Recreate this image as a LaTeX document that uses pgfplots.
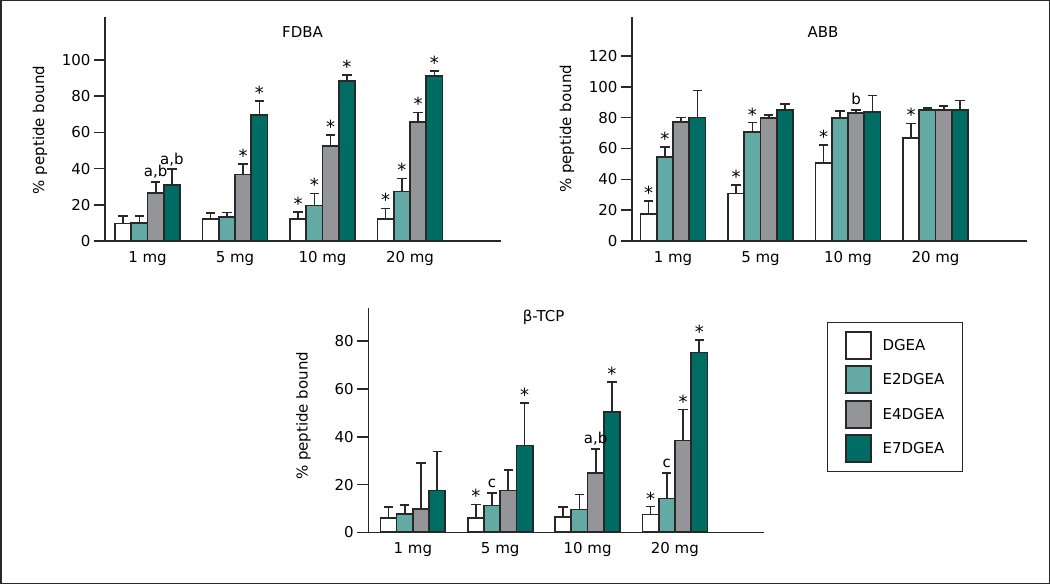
\documentclass[border=0pt]{standalone}
\usepackage{fontspec}
\setmainfont{DejaVu Sans}
\usepackage{pgfplots}
\pgfplotsset{compat=1.18}
\definecolor{clt}{RGB}{99,170,165}
\definecolor{cgr}{RGB}{147,149,152}
\definecolor{cdk}{RGB}{0,109,101}
\definecolor{cout}{RGB}{40,40,40}
\newcommand{\fs}{\fontsize{15}{18}\selectfont}
\pgfplotsset{
 panel/.style={
  scale only axis, axis lines=left,
  axis line style={-, line width=1.6pt, draw=cout},
  enlargelimits=false, ymin=0, clip=false,
  ybar=0pt, bar width=0.186,
  xtick={0,1,2,3}, xticklabels={1 mg,5 mg,10 mg,20 mg},
  x tick style={draw=none},
  y tick style={line width=1.6pt, draw=cout},
  tick align=outside, major tick length=11pt,
  tick label style={font=\fs},
  /pgf/number format/assume math mode=true,
  xticklabel style={yshift=4pt},
  ylabel={\% peptide bound},
  ylabel style={font=\fs, anchor=center},
  error bars/y dir=plus, error bars/y explicit,
  error bars/error bar style={line width=1.7pt, solid, draw=cout},
  error bars/error mark options={rotate=90, mark size=4.7pt, line width=1.7pt, draw=cout},
 },
 s1/.style={fill=white, draw=cout, line width=1.7pt},
 s2/.style={fill=clt, draw=cout, line width=1.7pt},
 s3/.style={fill=cgr, draw=cout, line width=1.7pt},
 s4/.style={fill=cdk, draw=cout, line width=1.7pt},
}
\tikzset{
 st/.style={anchor=base, font=\fontsize{18}{18}\selectfont, inner sep=0pt, yshift=1.5pt},
 lt/.style={anchor=base, font=\fs, inner sep=0pt, yshift=5pt},
}
\begin{document}
\begin{tikzpicture}
\useasboundingbox (0,0) rectangle (1050pt,584pt);
\draw[line width=1.5pt, cout] (0.75pt,0.75pt) rectangle (1049.25pt,583.25pt);

% FDBA
\begin{axis}[panel, at={(105pt,343pt)}, anchor=south west,
  width=396pt, height=224.3pt, xmin=-0.486, xmax=4.04, ymax=124,
  ytick={0,20,...,100},
  ylabel style={at={(axis description cs:-0.164,0.495)}}]
\addplot[s1] coordinates {(0,9.6) +- (0,4.4) (1,12.2) +- (0,3.1) (2,12.2) +- (0,4.0) (3,12.0) +- (0,6.0)};
\addplot[s2] coordinates {(0,10.1) +- (0,3.7) (1,13.1) +- (0,2.6) (2,19.7) +- (0,6.6) (3,27.4) +- (0,7.2)};
\addplot[s3] coordinates {(0,26.7) +- (0,6.1) (1,36.8) +- (0,5.7) (2,52.7) +- (0,5.9) (3,65.9) +- (0,5.2)};
\addplot[s4] coordinates {(0,30.8) +- (0,9.0) (1,69.8) +- (0,7.7) (2,88.4) +- (0,3.3) (3,91.2) +- (0,2.7)};
\node[font=\fs] at (rel axis cs:0.499,0.932) {FDBA};
\node[lt] at (axis cs:0.093,32.8) {a,b};
\node[lt] at (axis cs:0.279,39.8) {a,b};
\node[st] at (axis cs:1.093,42.5) {*};
\node[st] at (axis cs:1.279,77.5) {*};
\node[st] at (axis cs:1.721,16.2) {*};
\node[st] at (axis cs:1.907,26.3) {*};
\node[st] at (axis cs:2.093,58.6) {*};
\node[st] at (axis cs:2.279,91.7) {*};
\node[st] at (axis cs:2.721,18.0) {*};
\node[st] at (axis cs:2.907,34.6) {*};
\node[st] at (axis cs:3.093,71.1) {*};
\node[st] at (axis cs:3.279,93.9) {*};
\end{axis}

% ABB
\begin{axis}[panel, at={(632pt,343pt)}, anchor=south west,
  width=394.7pt, height=224.3pt, xmin=-0.469, xmax=4.042, ymax=145.5,
  ytick={0,20,...,120},
  ylabel style={at={(axis description cs:-0.165,0.5)}}]
\addplot[s1] coordinates {(0,17.3) +- (0,8.6) (1,30.9) +- (0,5.6) (2,50.4) +- (0,11.7) (3,66.6) +- (0,9.7)};
\addplot[s2] coordinates {(0,54.7) +- (0,6.3) (1,70.7) +- (0,6.1) (2,79.8) +- (0,4.7) (3,84.8) +- (0,1.3)};
\addplot[s3] coordinates {(0,77.4) +- (0,2.8) (1,80.0) +- (0,1.9) (2,83.2) +- (0,2.0) (3,85.0) +- (0,2.4)};
\addplot[s4] coordinates {(0,80.2) +- (0,17.5) (1,85.2) +- (0,3.7) (2,83.7) +- (0,10.6) (3,85.2) +- (0,6.0)};
\node[font=\fs] at (rel axis cs:0.484,0.932) {ABB};
\node[st] at (axis cs:-0.279,25.9) {*};
\node[st] at (axis cs:-0.093,61.0) {*};
\node[st] at (axis cs:0.721,36.5) {*};
\node[st] at (axis cs:0.907,76.8) {*};
\node[st] at (axis cs:1.721,62.1) {*};
\node[lt] at (axis cs:2.093,85.2) {b};
\node[st] at (axis cs:2.721,76.3) {*};
\end{axis}

% beta-TCP
\begin{axis}[panel, at={(368.3pt,51.7pt)}, anchor=south west,
  width=395.7pt, height=224pt, xmin=-0.51, xmax=4.02, ymax=93.8,
  ytick={0,20,...,80},
  ylabel style={at={(axis description cs:-0.164,0.52)}},
  legend style={at={(axis description cs:1.158,0.939)}, anchor=north west,
    draw=cout, line width=1.2pt, inner xsep=18pt, inner ysep=8.5pt,
    row sep=5.7pt, column sep=10.7pt, cells={anchor=west},
    nodes={inner sep=0pt, font=\fs}},
  legend cell align=left,
  legend image code/.code={\draw[#1, line width=1.7pt] (0pt,-13.5pt) rectangle (25pt,13.5pt);}]
\addplot[s1] coordinates {(0,5.9) +- (0,4.7) (1,6.1) +- (0,5.6) (2,6.4) +- (0,4.2) (3,7.4) +- (0,3.4)};
\addplot[s2] coordinates {(0,7.7) +- (0,3.6) (1,11.2) +- (0,5.4) (2,9.5) +- (0,6.3) (3,14.1) +- (0,10.8)};
\addplot[s3] coordinates {(0,9.8) +- (0,19.2) (1,17.5) +- (0,8.7) (2,24.9) +- (0,10.1) (3,38.4) +- (0,13.0)};
\addplot[s4] coordinates {(0,17.5) +- (0,16.3) (1,36.3) +- (0,17.9) (2,50.3) +- (0,12.5) (3,75.3) +- (0,5.1)};
\legend{DGEA,E2DGEA,E4DGEA,E7DGEA}
\node[font=\fs] at (rel axis cs:0.443,0.961) {β-TCP};
\node[st] at (axis cs:0.721,11.7) {*};
\node[lt] at (axis cs:0.907,16.6) {c};
\node[st] at (axis cs:1.279,54.2) {*};
\node[lt] at (axis cs:2.093,35.0) {a,b};
\node[st] at (axis cs:2.279,62.8) {*};
\node[st] at (axis cs:2.721,10.8) {*};
\node[lt] at (axis cs:2.907,24.9) {c};
\node[st] at (axis cs:3.093,51.4) {*};
\node[st] at (axis cs:3.279,80.4) {*};
\end{axis}
\end{tikzpicture}
\end{document}
